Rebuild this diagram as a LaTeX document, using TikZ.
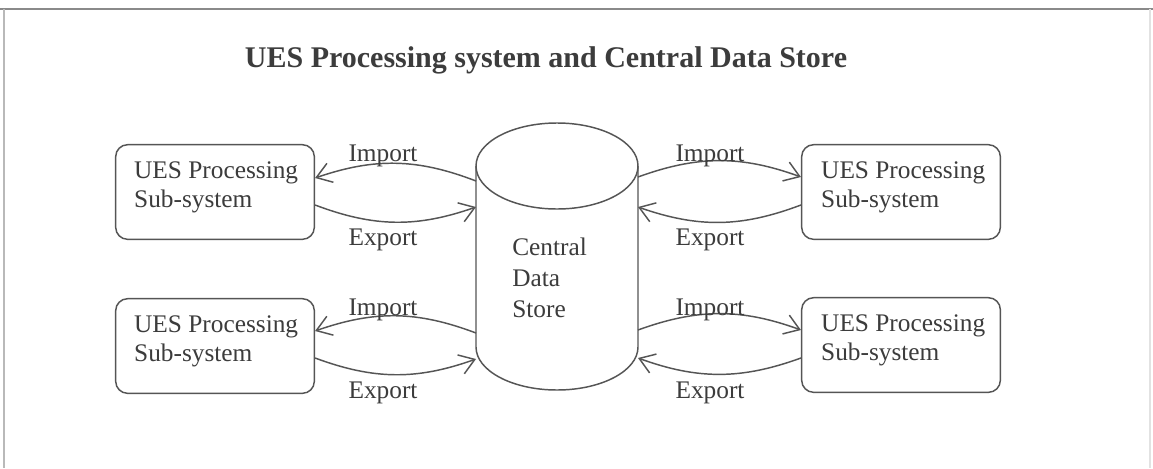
\documentclass[tikz,border=0pt]{standalone}
\usepackage{fontspec}
\setmainfont{Liberation Serif}
\usetikzlibrary{arrows.meta}
\definecolor{ink}{HTML}{3C3C3C}
\definecolor{wire}{HTML}{555555}
\definecolor{rule}{HTML}{8A8A8A}
\begin{document}
\begin{tikzpicture}[x=0.75pt,y=-0.75pt,
  every node/.style={text=ink,font=\fontsize{19pt}{21.75pt}\selectfont},
  subsys/.style={draw=wire,line width=1.1pt,rounded corners=9pt,
    minimum width=149pt,minimum height=71pt,inner sep=0pt},
  subtext/.style={align=left,inner sep=0pt,anchor=north west},
  flow/.style={draw=wire,line width=1.1pt,
    -{Straight Barb[length=11pt,width=15pt,line width=1.1pt]}},
  tag/.style={inner sep=0pt,anchor=base}]
  % page and frame
  \useasboundingbox (0,0) rectangle (1153,468);
  \fill[white] (0,0) rectangle (1153,468);
  \draw[rule,line width=1.6pt] (0,9) -- (1153,9);
  \draw[rule!60,line width=1.2pt] (4,9) -- (4,468);
  \draw[rule!25,line width=1pt] (1150,9) -- (1150,468);

  % heading
  \node[tag,font=\bfseries\fontsize{22.5pt}{24pt}\selectfont] (title) at (546,67)
    {UES Processing system and Central Data Store};

  % central data store cylinder
  \draw[wire,line width=1.1pt,fill=white]
    (476,166) -- (476,347) arc[start angle=180,end angle=0,x radius=81,y radius=43]
    -- (638,166);
  \draw[wire,line width=1.1pt] (557,166) ellipse[x radius=81,y radius=43];
  \node[align=left,font=\fontsize{19pt}{23.25pt}\selectfont,anchor=north west,inner sep=0pt]
    (store) at (512,238) {Central\\Data\\Store};
  \coordinate (sTLi) at (476,181);
  \coordinate (sTLe) at (476,207);
  \coordinate (sBLi) at (476,333);
  \coordinate (sBLe) at (476,359);
  \coordinate (sTRi) at (638,177);
  \coordinate (sTRe) at (638,207);
  \coordinate (sBRi) at (638,330);
  \coordinate (sBRe) at (638,358);

  % processing sub-systems
  \node[subsys] (tl) at (215,192) {};
  \node[subsys] (bl) at (215,346) {};
  \node[subsys] (tr) at (901,192) {};
  \node[subsys] (br) at (901,345) {};
  \node[subtext] (tlt) at ([shift={(19,18)}]tl.north west) {UES Processing\\Sub-system};
  \node[subtext] (blt) at ([shift={(19,18)}]bl.north west) {UES Processing\\Sub-system};
  \node[subtext] (trt) at ([shift={(20,18)}]tr.north west) {UES Processing\\Sub-system};
  \node[subtext] (brt) at ([shift={(20,18)}]br.north west) {UES Processing\\Sub-system};

  % import / export flows
  \draw[flow] (sTLi) to[bend right=20] (tl.east |- 0,178);
  \draw[flow] (tl.east |- 0,205) to[bend right=20] (sTLe);
  \draw[flow] (sBLi) to[bend right=20] (bl.east |- 0,331);
  \draw[flow] (bl.east |- 0,358) to[bend right=20] (sBLe);
  \draw[flow] (sTRi) to[bend left=20] (tr.west |- 0,177);
  \draw[flow] (tr.west |- 0,205) to[bend left=20] (sTRe);
  \draw[flow] (sBRi) to[bend left=20] (br.west |- 0,330);
  \draw[flow] (br.west |- 0,358) to[bend left=20] (sBRe);

  % flow labels
  \node[tag] (lTLi) at (383,161) {Import};
  \node[tag] (lTLe) at (383,245) {Export};
  \node[tag] (lBLi) at (383,315) {Import};
  \node[tag] (lBLe) at (383,398) {Export};
  \node[tag] (lTRi) at (710,161) {Import};
  \node[tag] (lTRe) at (710,245) {Export};
  \node[tag] (lBRi) at (710,315) {Import};
  \node[tag] (lBRe) at (710,398) {Export};
\end{tikzpicture}
\end{document}
